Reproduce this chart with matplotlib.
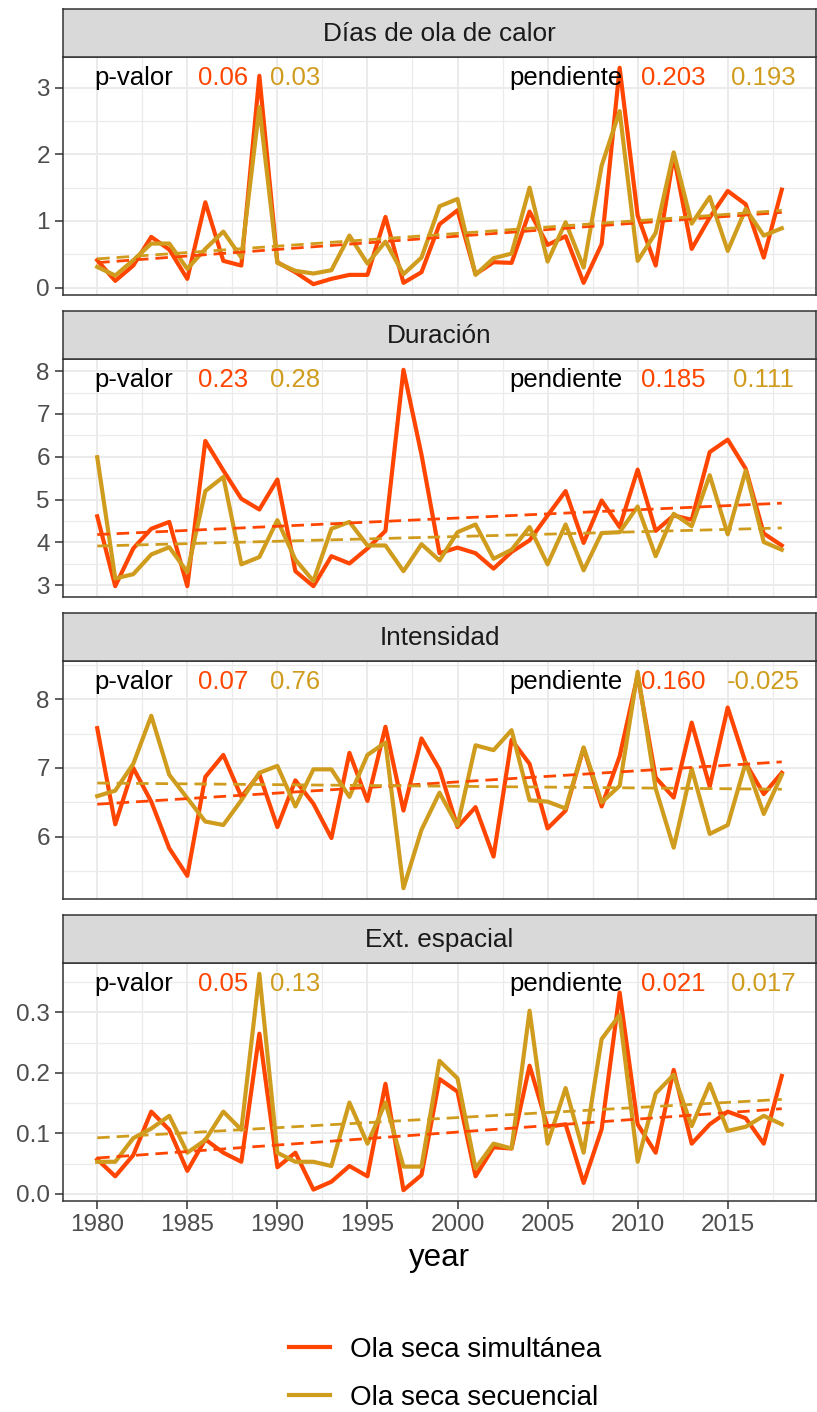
import matplotlib
matplotlib.use("Agg")
import matplotlib.pyplot as plt
import numpy as np
from matplotlib.lines import Line2D
from matplotlib.ticker import MultipleLocator, FormatStrFormatter
from matplotlib.transforms import blended_transform_factory

plt.rcParams["font.family"] = ["Liberation Sans", "DejaVu Sans"]

# --- data -----------------------------------------------------------------
years = np.arange(1980, 2019)

panel_titles = ["Días de ola de calor", "Duración", "Intensidad", "Ext. espacial"]
series_labels = ["Ola seca simultánea", "Ola seca secuencial"]

dias_sim = [0.41, 0.10, 0.33, 0.76, 0.57, 0.13, 1.28, 0.40, 0.33, 3.18,
            0.38, 0.23, 0.05, 0.13, 0.19, 0.19, 1.06, 0.07, 0.23, 0.95,
            1.16, 0.20, 0.38, 0.37, 1.14, 0.64, 0.77, 0.07, 0.65, 3.30,
            1.08, 0.33, 1.98, 0.58, 1.05, 1.45, 1.25, 0.45, 1.47]
dias_sec = [0.31, 0.18, 0.41, 0.66, 0.66, 0.28, 0.58, 0.84, 0.45, 2.71,
            0.37, 0.25, 0.21, 0.26, 0.78, 0.36, 0.69, 0.20, 0.45, 1.22,
            1.33, 0.19, 0.44, 0.51, 1.50, 0.39, 0.98, 0.30, 1.83, 2.65,
            0.40, 0.82, 2.03, 0.96, 1.36, 0.55, 1.18, 0.78, 0.89]

dur_sim = [4.61, 2.98, 3.86, 4.32, 4.48, 2.98, 6.37, 5.68, 5.02, 4.77,
           5.47, 3.33, 2.98, 3.68, 3.51, 3.86, 4.27, 8.03, 6.05, 3.75,
           3.88, 3.75, 3.39, 3.78, 4.05, 4.63, 5.20, 3.99, 4.98, 4.36,
           5.70, 4.27, 4.63, 4.53, 6.11, 6.40, 5.72, 4.21, 3.93]
dur_sec = [5.99, 3.16, 3.26, 3.72, 3.89, 3.31, 5.20, 5.53, 3.49, 3.66,
           4.52, 3.60, 3.10, 4.32, 4.48, 3.93, 3.93, 3.33, 3.96, 3.58,
           4.24, 4.42, 3.62, 3.83, 4.36, 3.49, 4.42, 3.35, 4.22, 4.24,
           4.84, 3.68, 4.67, 4.38, 5.57, 4.19, 5.68, 4.01, 3.83]

int_sim = [7.58, 6.18, 7.00, 6.51, 5.83, 5.43, 6.87, 7.19, 6.58, 6.91,
           6.14, 6.82, 6.48, 5.98, 7.22, 6.52, 7.60, 6.38, 7.43, 6.98,
           6.14, 6.43, 5.71, 7.41, 7.06, 6.12, 6.38, 7.29, 6.44, 7.17,
           8.35, 6.86, 6.57, 7.66, 6.73, 7.88, 7.07, 6.62, 6.93]
int_sec = [6.59, 6.67, 7.06, 7.76, 6.90, 6.56, 6.22, 6.17, 6.53, 6.93,
           7.03, 6.44, 6.98, 6.98, 6.58, 7.19, 7.37, 5.25, 6.10, 6.64,
           6.16, 7.33, 7.26, 7.55, 6.53, 6.51, 6.41, 7.30, 6.50, 6.74,
           8.40, 6.70, 5.84, 6.99, 6.04, 6.17, 7.08, 6.33, 6.90]

ext_sim = [0.057, 0.029, 0.064, 0.136, 0.106, 0.038, 0.090, 0.068, 0.053, 0.265,
           0.044, 0.068, 0.007, 0.020, 0.046, 0.029, 0.182, 0.006, 0.031, 0.190,
           0.169, 0.029, 0.077, 0.075, 0.212, 0.111, 0.115, 0.018, 0.107, 0.333,
           0.115, 0.068, 0.205, 0.083, 0.115, 0.136, 0.125, 0.083, 0.195]
ext_sec = [0.053, 0.053, 0.092, 0.108, 0.129, 0.068, 0.089, 0.136, 0.106, 0.364,
           0.068, 0.053, 0.053, 0.046, 0.151, 0.083, 0.151, 0.045, 0.045, 0.220,
           0.191, 0.042, 0.083, 0.075, 0.303, 0.083, 0.175, 0.068, 0.256, 0.296,
           0.053, 0.166, 0.197, 0.112, 0.182, 0.104, 0.111, 0.129, 0.115]

pvalor_sim = ["0.06", "0.23", "0.07", "0.05"]
pvalor_sec = ["0.03", "0.28", "0.76", "0.13"]
pend_sim = ["0.203", "0.185", "0.160", "0.021"]
pend_sec = ["0.193", "0.111", "-0.025", "0.017"]

y_steps = [1, 1, 1, 0.1]
y_formats = ["%d", "%d", "%d", "%.1f"]

panels = [(dias_sim, dias_sec), (dur_sim, dur_sec),
          (int_sim, int_sec), (ext_sim, ext_sec)]

# --- style ----------------------------------------------------------------
RED = "#FF4500"
GOLD = "#D09C1E"
colors = [RED, GOLD]
BORDER = "#333333"
GRID = "#EBEBEB"

W, H = 817, 1412


def frac(left, top, width, height):
    return [left / W, 1 - (top + height) / H, width / W, height / H]


fig = plt.figure(figsize=(W / 100, H / 100), dpi=100)
fig.patch.set_facecolor("white")

p_left, p_width = 63, 753
first_top, pitch, p_h, strip_h = 57, 302, 238, 48.5

for i, (sim, sec) in enumerate(panels):
    top = first_top + i * pitch
    ax = fig.add_axes(frac(p_left, top, p_width, p_h))
    sax = fig.add_axes(frac(p_left, top - strip_h, p_width, strip_h))

    # strip
    sax.set_facecolor("#D9D9D9")
    sax.set_xticks([])
    sax.set_yticks([])
    for sp in sax.spines.values():
        sp.set_color(BORDER)
        sp.set_linewidth(1.1)
    sax.text(0.5, 0.48, panel_titles[i], transform=sax.transAxes,
             ha="center", va="center", fontsize=18.8, color="#1A1A1A")

    # lines + lm trend
    for vals, col in zip((sim, sec), colors):
        ax.plot(years, vals, color=col, lw=3.0, zorder=3)
    for vals, col in zip((sim, sec), colors):
        coef = np.polyfit(years, vals, 1)
        ax.plot(years, np.polyval(coef, years), color=col, lw=2.0,
                dashes=(4.5, 2.5), zorder=4)

    allv = np.concatenate([sim, sec])
    lo, hi = allv.min(), allv.max()
    pad = 0.05 * (hi - lo)
    ax.set_ylim(lo - pad, hi + pad)
    ax.set_xlim(1980 - 0.05 * 38, 2018 + 0.05 * 38)

    ax.yaxis.set_major_locator(MultipleLocator(y_steps[i]))
    ax.yaxis.set_minor_locator(MultipleLocator(y_steps[i] / 2))
    ax.yaxis.set_major_formatter(FormatStrFormatter(y_formats[i]))
    ax.xaxis.set_major_locator(MultipleLocator(5))
    ax.xaxis.set_minor_locator(MultipleLocator(2.5))

    ax.grid(which="major", color=GRID, lw=1.4, zorder=0)
    ax.grid(which="minor", color=GRID, lw=0.9, zorder=0)
    ax.set_axisbelow(True)
    for sp in ax.spines.values():
        sp.set_color(BORDER)
        sp.set_linewidth(1.1)

    ax.tick_params(axis="y", which="major", length=5.5, width=1.1,
                   color=BORDER, labelsize=17.5, labelcolor="#4D4D4D", pad=4)
    ax.tick_params(which="minor", length=0)
    if i < 3:
        ax.tick_params(axis="x", which="both", length=0, labelbottom=False)
    else:
        ax.tick_params(axis="x", which="major", length=5.5, width=1.1,
                       color=BORDER, labelsize=17.5, labelcolor="#4D4D4D", pad=4)
        ax.set_xlabel("year", fontsize=22.5, color="black", labelpad=5)

    # annotations
    tr = blended_transform_factory(ax.transData, ax.transAxes)
    ty = 0.912
    ax.text(1982, ty, "p-valor", transform=tr, ha="center", va="center",
            fontsize=18.5, color="black", zorder=6)
    ax.text(1987, ty, pvalor_sim[i], transform=tr, ha="center", va="center",
            fontsize=18.5, color=RED, zorder=6)
    ax.text(1991, ty, pvalor_sec[i], transform=tr, ha="center", va="center",
            fontsize=18.5, color=GOLD, zorder=6)
    ax.text(2006, ty, "pendiente", transform=tr, ha="center", va="center",
            fontsize=18.5, color="black", zorder=6)
    ax.text(2012, ty, pend_sim[i], transform=tr, ha="center", va="center",
            fontsize=18.5, color=RED, zorder=6)
    ax.text(2017, ty, pend_sec[i], transform=tr, ha="center", va="center",
            fontsize=18.5, color=GOLD, zorder=6)

# legend
handles = [Line2D([], [], color=c, lw=3.0) for c in colors]
fig.legend(handles, series_labels, loc="center",
           bbox_to_anchor=(445 / W, 1 - 1374 / H), frameon=False,
           fontsize=20, handlelength=1.45, handletextpad=0.72,
           labelspacing=0.8)

fig.savefig("out.png", dpi=100, facecolor="white")
